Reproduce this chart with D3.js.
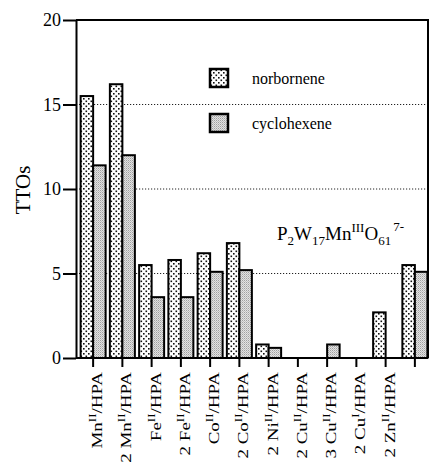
<!DOCTYPE html>
<html>
<head>
<meta charset="utf-8">
<script src="https://cdn.jsdelivr.net/npm/d3@7"></script>
<style>
  body { margin: 0; background: #fff; }
  svg { display: block; }
  svg text { font-family: "Liberation Serif", "DejaVu Serif", serif; }
</style>
</head>
<body>
<div id="chart"></div>
<script>
// categories (ratio prefix, metal, oxidation state); the last one is labelled inside the plot
const ratios = ["", "2 ", "", "2 ", "", "2 ", "2 ", "2 ", "3 ", "2 ", "2 ", ""];
const metals = ["Mn", "Mn", "Fe", "Fe", "Co", "Co", "Ni", "Cu", "Cu", "Cu", "Zn", ""];
const oxStates = ["II", "II", "II", "II", "II", "II", "II", "II", "II", "I", "II", ""];

const seriesNames = ["norbornene", "cyclohexene"];
const norbornene = [15.5, 16.2, 5.5, 5.8, 6.2, 6.8, 0.8, 0, 0, 0, 2.7, 5.5];
const cyclohexene = [11.4, 12.0, 3.6, 3.6, 5.1, 5.2, 0.6, 0, 0.8, 0, 0, 5.1];

const yTicks = [0, 5, 10, 15, 20];

const width = 431, height = 466;
const plotLeft = 76, plotRight = 428, plotTop = 20, plotBottom = 358;
const serif = "Liberation Serif";

const svg = d3.select("#chart").append("svg")
  .attr("width", width)
  .attr("height", height)
  .attr("font-family", serif);

// fill patterns
const defs = svg.append("defs");
const dots = defs.append("pattern")
  .attr("id", "dots")
  .attr("patternUnits", "userSpaceOnUse")
  .attr("width", 5).attr("height", 5);
dots.append("rect").attr("width", 5).attr("height", 5).attr("fill", "#fff");
dots.append("rect").attr("x", 0.5).attr("y", 0.5).attr("width", 1.6).attr("height", 1.6).attr("fill", "#111");
dots.append("rect").attr("x", 3).attr("y", 3).attr("width", 1.6).attr("height", 1.6).attr("fill", "#111");

const gray = defs.append("pattern")
  .attr("id", "gray")
  .attr("patternUnits", "userSpaceOnUse")
  .attr("width", 2).attr("height", 2);
gray.append("rect").attr("width", 2).attr("height", 2).attr("fill", "#e2e2e2");
gray.append("rect").attr("x", 0).attr("y", 0).attr("width", 1).attr("height", 1).attr("fill", "#a0a0a0");
gray.append("rect").attr("x", 1).attr("y", 1).attr("width", 1).attr("height", 1).attr("fill", "#c0c0c0");

const fills = {norbornene: "url(#dots)", cyclohexene: "url(#gray)"};

const idx = d3.range(metals.length);

const x = d3.scaleBand()
  .domain(idx)
  .range([78.5, 429.5])
  .padding(0);

const x1 = d3.scaleBand()
  .domain(seriesNames)
  .range([0, x.bandwidth()])
  .paddingInner(0)
  .paddingOuter(0.17);

const y = d3.scaleLinear()
  .domain([0, 20])
  .range([plotBottom, plotTop]);

// dotted grid lines
svg.append("g")
  .selectAll("line")
  .data([5, 10, 15])
  .join("line")
  .attr("x1", plotLeft).attr("x2", plotRight)
  .attr("y1", d => y(d)).attr("y2", d => y(d))
  .attr("stroke", "#222")
  .attr("stroke-width", 1)
  .attr("stroke-dasharray", "1.2,1.8");

// bars
const barData = [];
idx.forEach(i => {
  barData.push({i: i, s: "norbornene", v: norbornene[i]});
  barData.push({i: i, s: "cyclohexene", v: cyclohexene[i]});
});

svg.append("g")
  .selectAll("rect")
  .data(barData.filter(d => d.v > 0))
  .join("rect")
  .attr("x", d => x(d.i) + x1(d.s))
  .attr("y", d => y(d.v))
  .attr("width", x1.bandwidth())
  .attr("height", d => y(0) - y(d.v))
  .attr("fill", d => fills[d.s])
  .attr("stroke", "#000")
  .attr("stroke-width", 2);

// frame: top and right
svg.append("path")
  .attr("d", `M${plotLeft},${plotTop}H${plotRight}V${plotBottom}`)
  .attr("fill", "none")
  .attr("stroke", "#000")
  .attr("stroke-width", 2);

// y axis
const yAxis = svg.append("g")
  .attr("transform", `translate(${plotLeft},0)`)
  .call(d3.axisLeft(y).tickValues(yTicks).tickSize(13).tickPadding(2).tickSizeOuter(0))
  .attr("font-family", serif)
  .attr("font-size", 18);
yAxis.select(".domain").attr("stroke-width", 2);
yAxis.selectAll(".tick line").attr("stroke-width", 2);
yAxis.selectAll(".tick text").attr("fill", "#000");

// x axis
const xAxis = svg.append("g")
  .attr("transform", `translate(0,${plotBottom})`)
  .call(d3.axisBottom(x).tickSize(9).tickSizeOuter(0).tickFormat(""));
xAxis.select(".domain").attr("d", `M${plotLeft},0H${plotRight}`).attr("stroke-width", 2);
xAxis.selectAll(".tick line").attr("stroke-width", 2);

// x tick labels, rotated, with superscript oxidation states
const labels = svg.append("g")
  .selectAll("text")
  .data(idx.filter(i => metals[i] !== ""))
  .join("text")
  .attr("transform", i => `translate(${x(i) + x.bandwidth() / 2 + 9},372) rotate(-90) scale(1,0.74)`)
  .attr("text-anchor", "end")
  .attr("font-size", 19)
  .attr("fill", "#000");
labels.append("tspan").text(i => ratios[i] + metals[i]);
labels.append("tspan").attr("dy", -8).attr("font-size", 13).text(i => oxStates[i]);
labels.append("tspan").attr("dy", 8).text("/HPA");

// y axis title
svg.append("text")
  .attr("transform", "translate(30,190) rotate(-90)")
  .attr("text-anchor", "middle")
  .attr("font-size", 21)
  .attr("fill", "#000")
  .text("TTOs");

// legend
const legend = svg.append("g")
  .selectAll("g")
  .data(seriesNames)
  .join("g")
  .attr("transform", (d, k) => `translate(210,${69 + k * 45})`);
legend.append("rect")
  .attr("width", 18).attr("height", 18)
  .attr("fill", d => fills[d])
  .attr("stroke", "#000")
  .attr("stroke-width", 2.5);
legend.append("text")
  .attr("x", 42).attr("y", 15)
  .attr("font-size", 16)
  .attr("fill", "#000")
  .text(d => d);

// formula annotation
const formula = svg.append("text")
  .attr("x", 277).attr("y", 240)
  .attr("font-size", 19)
  .attr("fill", "#000");
formula.append("tspan").text("P");
formula.append("tspan").attr("dy", 5).attr("font-size", 13).text("2");
formula.append("tspan").attr("dy", -5).text("W");
formula.append("tspan").attr("dy", 5).attr("font-size", 13).text("17");
formula.append("tspan").attr("dy", -5).text("Mn");
formula.append("tspan").attr("dy", -8).attr("font-size", 13).text("III");
formula.append("tspan").attr("dy", 8).text("O");
formula.append("tspan").attr("dy", 5).attr("font-size", 13).text("61");
formula.append("tspan").attr("dy", -14).attr("dx", 2).attr("font-size", 13).text("7-");
</script>
</body>
</html>
